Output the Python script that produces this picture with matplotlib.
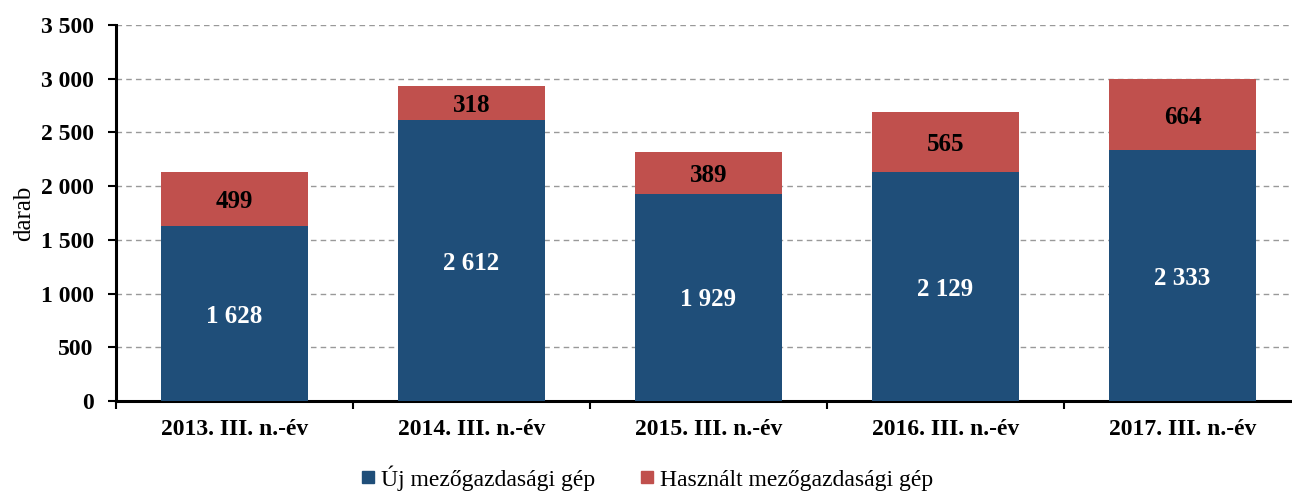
import matplotlib
matplotlib.use("Agg")
import matplotlib.pyplot as plt
from matplotlib.ticker import FuncFormatter, FixedLocator, NullFormatter
from matplotlib.lines import Line2D

categories = ["2013. III. n.-év", "2014. III. n.-év", "2015. III. n.-év", "2016. III. n.-év", "2017. III. n.-év"]
uj = [1628, 2612, 1929, 2129, 2333]
hasznalt = [499, 318, 389, 565, 664]
series_names = ["Új mezőgazdasági gép", "Használt mezőgazdasági gép"]

c_blue = "#1F4E79"
c_red = "#C0504D"

plt.rcParams['font.family'] = ['Liberation Serif', 'DejaVu Serif']

def fmt(v):
    return f"{int(v):,}".replace(",", " ")

fig = plt.figure(figsize=(12.92, 4.92), dpi=100)
ax = fig.add_axes([116/1292, 91/492, 1185/1292, 376/492])

x = list(range(len(categories)))
w = 0.62
ax.bar(x, uj, width=w, color=c_blue, zorder=3)
ax.bar(x, hasznalt, width=w, bottom=uj, color=c_red, zorder=3)

for i in x:
    ax.text(i, uj[i] / 2, fmt(uj[i]), ha='center', va='center_baseline', color='white',
            fontsize=18, fontweight='bold', zorder=4)
    ax.text(i, uj[i] + hasznalt[i] / 2, fmt(hasznalt[i]), ha='center', va='center_baseline',
            color='black', fontsize=18, fontweight='bold', zorder=4)

ax.set_xlim(-0.5, len(categories) - 0.5)
ax.set_ylim(0, 3500)
ax.set_yticks(range(0, 3501, 500))
ax.yaxis.set_major_formatter(FuncFormatter(lambda v, p: fmt(v)))
ax.grid(axis='y', color='#999999', linestyle=(0, (4, 3)), linewidth=1.0, zorder=0)

ax.xaxis.set_major_locator(FixedLocator([i - 0.5 for i in range(len(categories) + 1)]))
ax.xaxis.set_major_formatter(NullFormatter())
ax.xaxis.set_minor_locator(FixedLocator(x))
ax.set_xticklabels(categories, minor=True, fontsize=17, fontweight='bold')
ax.tick_params(axis='x', which='minor', length=0, pad=13)
ax.tick_params(axis='x', which='major', length=6, width=1.5, direction='out')
ax.tick_params(axis='y', length=6, width=1.5, direction='out', labelsize=17, pad=10)
for lbl in ax.get_yticklabels():
    lbl.set_fontweight('bold')

for s in ['top', 'right']:
    ax.spines[s].set_visible(False)
for s in ['left', 'bottom']:
    ax.spines[s].set_linewidth(2.2)

ax.set_ylabel("darab", fontsize=18, labelpad=4)

handles = [Line2D([], [], marker='s', linestyle='none', markersize=8, color=c_blue),
           Line2D([], [], marker='s', linestyle='none', markersize=8, color=c_red)]
fig.legend(handles, series_names, loc='center', bbox_to_anchor=(0.5, 14/492),
           ncol=2, frameon=False, fontsize=17, handletextpad=0.15, columnspacing=1.8,
           handlelength=0.8)

fig.savefig("out.png", dpi=100)
